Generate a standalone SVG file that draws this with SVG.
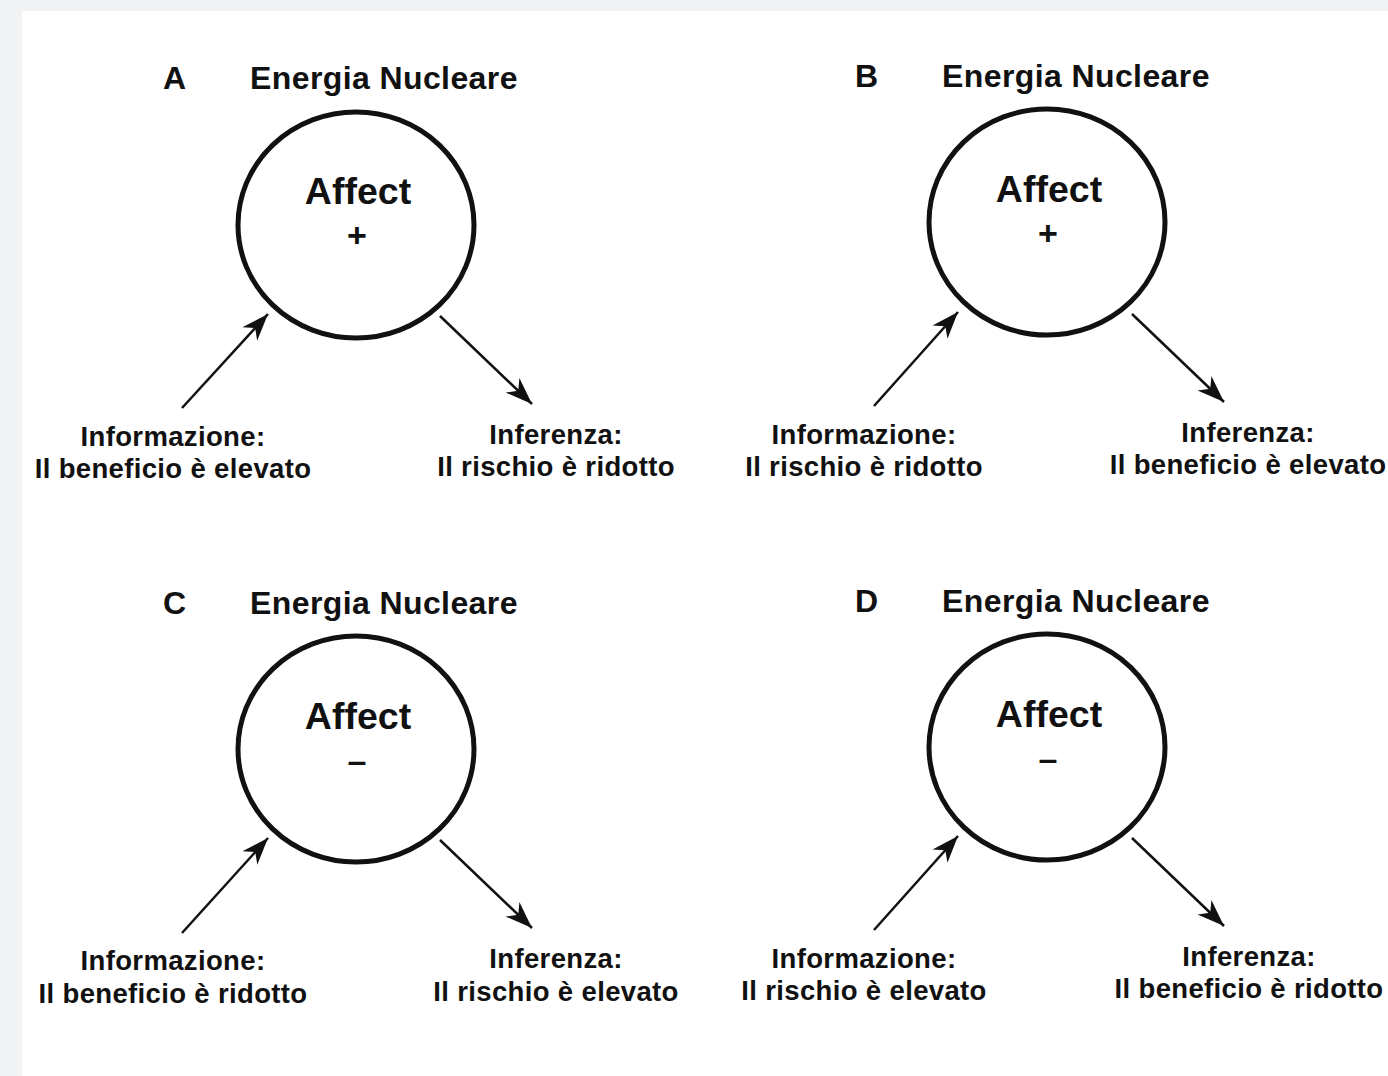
<svg xmlns="http://www.w3.org/2000/svg" width="1388" height="1076" viewBox="0 0 1388 1076">
<defs>
<style>
.t{font-family:"Liberation Sans",Arial,Helvetica,sans-serif;font-weight:bold;fill:#111}
.h{font-size:32px;letter-spacing:0.4px}
.af{font-size:37.5px;text-anchor:middle}
.sg{font-size:34px;text-anchor:middle}
.lb{font-size:27.5px;letter-spacing:0.35px;text-anchor:middle}
.c{fill:none;stroke:#111;stroke-width:5}
.a{stroke:#111;stroke-width:2.5;fill:none;marker-end:url(#ah)}
</style>
<marker id="ah" markerUnits="userSpaceOnUse" viewBox="-28 -11 30 22" refX="0" refY="0" markerWidth="30" markerHeight="22" orient="auto">
<path d="M0,0 L-27,-10 L-19,0 L-27,10 Z" fill="#111"/>
</marker>
</defs>
<rect x="0" y="0" width="1388" height="1076" fill="#f2f3f5"/>
<rect x="22" y="11" width="1366" height="1065" fill="#fff"/>

<g id="panelA">
<text class="t h" x="163" y="89">A</text>
<text class="t h" x="250" y="89">Energia Nucleare</text>
</g>
<g id="nodeA">
<ellipse class="c" cx="356" cy="225" rx="118" ry="113"/>
<text class="t af" x="358" y="204">Affect</text>
<text class="t sg" x="357" y="247">+</text>
</g>
<g id="infoA"><text class="t lb" x="173" y="446">Informazione:</text><text class="t lb" x="173" y="478">Il beneficio è elevato</text></g>
<g id="infA"><text class="t lb" x="556" y="444">Inferenza:</text><text class="t lb" x="556" y="476">Il rischio è ridotto</text></g>

<g id="panelB">
<text class="t h" x="855" y="87">B</text>
<text class="t h" x="942" y="87">Energia Nucleare</text>
</g>
<g id="nodeB">
<ellipse class="c" cx="1047" cy="222" rx="118" ry="113"/>
<text class="t af" x="1049" y="202">Affect</text>
<text class="t sg" x="1048" y="245">+</text>
</g>
<g id="infoB"><text class="t lb" x="864" y="444">Informazione:</text><text class="t lb" x="864" y="476">Il rischio è ridotto</text></g>
<g id="infB"><text class="t lb" x="1248" y="442">Inferenza:</text><text class="t lb" x="1248" y="474">Il beneficio è elevato</text></g>

<g id="panelC">
<text class="t h" x="163" y="614">C</text>
<text class="t h" x="250" y="614">Energia Nucleare</text>
</g>
<g id="nodeC">
<ellipse class="c" cx="356" cy="749" rx="118" ry="113"/>
<text class="t af" x="358" y="729">Affect</text>
<text class="t sg" x="357" y="772">–</text>
</g>
<g id="infoC"><text class="t lb" x="173" y="970">Informazione:</text><text class="t lb" x="173" y="1003">Il beneficio è ridotto</text></g>
<g id="infC"><text class="t lb" x="556" y="968">Inferenza:</text><text class="t lb" x="556" y="1001">Il rischio è elevato</text></g>

<g id="panelD">
<text class="t h" x="855" y="612">D</text>
<text class="t h" x="942" y="612">Energia Nucleare</text>
</g>
<g id="nodeD">
<ellipse class="c" cx="1047" cy="747" rx="118" ry="113"/>
<text class="t af" x="1049" y="727">Affect</text>
<text class="t sg" x="1048" y="770">–</text>
</g>
<g id="infoD"><text class="t lb" x="864" y="968">Informazione:</text><text class="t lb" x="864" y="1000">Il rischio è elevato</text></g>
<g id="infD"><text class="t lb" x="1249" y="966">Inferenza:</text><text class="t lb" x="1249" y="998">Il beneficio è ridotto</text></g>

<g id="connectors">
<line class="a" x1="182" y1="408" x2="268" y2="314"/>
<line class="a" x1="440" y1="316" x2="532" y2="404"/>
<line class="a" x1="874" y1="406" x2="958" y2="312"/>
<line class="a" x1="1132" y1="314" x2="1224" y2="402"/>
<line class="a" x1="182" y1="933" x2="268" y2="838"/>
<line class="a" x1="440" y1="840" x2="532" y2="928"/>
<line class="a" x1="874" y1="930" x2="958" y2="836"/>
<line class="a" x1="1132" y1="838" x2="1224" y2="926"/>
</g>
</svg>
